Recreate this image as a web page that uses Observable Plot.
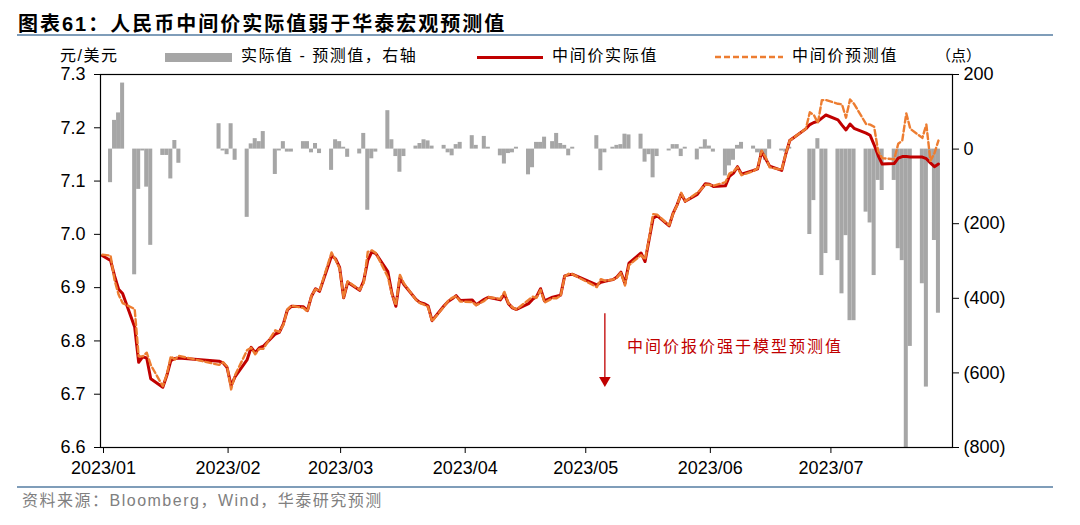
<!DOCTYPE html>
<html><head><meta charset="utf-8">
<script src="https://cdn.jsdelivr.net/npm/d3@7"></script>
<script src="https://cdn.jsdelivr.net/npm/@observablehq/plot@0.6"></script>
<style>
body{margin:0;background:#fff;}
#wrap{position:relative;width:1080px;height:525px;overflow:hidden;background:#fff;font-family:"Liberation Sans",Arial,"Noto Sans CJK SC",sans-serif;color:#000;}
.abs{position:absolute;white-space:nowrap;}
.cjk{font-family:"Liberation Sans",Arial,"Noto Sans CJK SC",sans-serif;}
.layer{position:absolute;left:0;top:66px;}
</style></head>
<body><div id="wrap">
  <div class="abs cjk" style="left:18px;top:11px;font-size:20px;line-height:26px;font-weight:bold;letter-spacing:2px;">图表61：人民币中间价实际值弱于华泰宏观预测值</div>
  <div class="abs" style="left:17px;top:34px;width:1036px;height:1.5px;background:#7F9DB9;"></div>
  <div class="abs cjk" style="left:60px;top:46px;font-size:16px;line-height:20px;letter-spacing:1.5px;">元/美元</div>
  <div class="abs" style="left:165px;top:53px;width:67px;height:9px;background:#A6A6A6;"></div>
  <div class="abs cjk" style="left:241px;top:46px;font-size:16px;line-height:20px;letter-spacing:1.5px;">实际值 - 预测值，右轴</div>
  <div class="abs" style="left:477px;top:56px;width:66px;height:3px;background:#C00000;"></div>
  <div class="abs cjk" style="left:552px;top:46px;font-size:16px;line-height:20px;letter-spacing:1.7px;">中间价实际值</div>
  <svg class="abs" style="left:715px;top:52px;" width="68" height="10"><line x1="0" y1="5" x2="68" y2="5" stroke="#ED7D31" stroke-width="2.5" stroke-dasharray="6,3"/></svg>
  <div class="abs cjk" style="left:792px;top:46px;font-size:16px;line-height:20px;letter-spacing:1.7px;">中间价预测值</div>
  <div class="abs" style="left:936px;top:45px;font-size:15px;line-height:20px;font-family:'Noto Sans CJK SC',sans-serif;">（点）</div>
  <div id="bars" class="layer"></div>
  <div id="lines" class="layer"></div>
  <div class="abs" style="left:17px;top:486px;width:1036px;height:1.5px;background:#7F9DB9;"></div>
  <div class="abs cjk" style="left:22px;top:491px;font-size:16px;line-height:20px;letter-spacing:1.5px;color:#808080;">资料来源：Bloomberg，Wind，华泰研究预测</div>
</div>
<script>
// ---- data ----
const dates = [
 "2023-01-01","2023-01-03","2023-01-04","2023-01-05","2023-01-06","2023-01-09","2023-01-10","2023-01-11","2023-01-12","2023-01-13","2023-01-16","2023-01-17","2023-01-18","2023-01-19","2023-01-20","2023-01-30","2023-01-31",
 "2023-02-01","2023-02-02","2023-02-03","2023-02-06","2023-02-07","2023-02-08","2023-02-09","2023-02-10","2023-02-13","2023-02-14","2023-02-15","2023-02-16","2023-02-17","2023-02-20","2023-02-21","2023-02-22","2023-02-23","2023-02-24","2023-02-27","2023-02-28",
 "2023-03-01","2023-03-02","2023-03-03","2023-03-06","2023-03-07","2023-03-08","2023-03-09","2023-03-10","2023-03-13","2023-03-14","2023-03-15","2023-03-16","2023-03-17","2023-03-20","2023-03-21","2023-03-22","2023-03-23","2023-03-24","2023-03-27","2023-03-28","2023-03-29","2023-03-30","2023-03-31",
 "2023-04-03","2023-04-04","2023-04-06","2023-04-07","2023-04-10","2023-04-11","2023-04-12","2023-04-13","2023-04-14","2023-04-17","2023-04-18","2023-04-19","2023-04-20","2023-04-21","2023-04-23","2023-04-24","2023-04-25","2023-04-26","2023-04-27","2023-04-28",
 "2023-05-04","2023-05-05","2023-05-06","2023-05-08","2023-05-09","2023-05-10","2023-05-11","2023-05-12","2023-05-15","2023-05-16","2023-05-17","2023-05-18","2023-05-19","2023-05-22","2023-05-23","2023-05-24","2023-05-25","2023-05-26","2023-05-29","2023-05-30","2023-05-31",
 "2023-06-01","2023-06-02","2023-06-05","2023-06-06","2023-06-07","2023-06-08","2023-06-09","2023-06-12","2023-06-13","2023-06-14","2023-06-15","2023-06-16","2023-06-19","2023-06-20","2023-06-21","2023-06-25","2023-06-26","2023-06-27","2023-06-28","2023-06-29","2023-06-30",
 "2023-07-03","2023-07-04","2023-07-05","2023-07-06","2023-07-07","2023-07-10","2023-07-11","2023-07-12","2023-07-13","2023-07-14","2023-07-17","2023-07-18","2023-07-19","2023-07-20","2023-07-21","2023-07-24","2023-07-25","2023-07-26","2023-07-27","2023-07-28"
];
// 中间价实际值 (元/美元)
const actual = [
 6.960,6.951,6.922,6.897,6.889,6.826,6.760,6.770,6.768,6.729,6.713,6.735,6.763,6.767,6.768,6.762,6.759,
 6.750,6.716,6.733,6.765,6.788,6.778,6.787,6.790,6.813,6.816,6.832,6.858,6.865,6.864,6.857,6.884,6.898,6.893,6.960,6.954,
 6.938,6.881,6.910,6.895,6.913,6.951,6.967,6.964,6.930,6.890,6.865,6.918,6.906,6.878,6.872,6.870,6.866,6.838,6.866,6.874,6.879,6.885,6.876,
 6.877,6.868,6.878,6.882,6.877,6.888,6.870,6.862,6.859,6.870,6.878,6.883,6.898,6.875,6.882,6.884,6.886,6.922,6.924,6.925,
 6.905,6.910,6.912,6.915,6.920,6.929,6.908,6.946,6.965,6.949,6.990,7.030,7.035,7.016,7.040,7.056,7.076,7.062,7.075,7.085,7.095,
 7.094,7.090,7.091,7.109,7.115,7.127,7.113,7.120,7.123,7.155,7.142,7.128,7.120,7.150,7.176,7.198,7.206,7.210,7.212,7.218,7.224,
 7.215,7.205,7.196,7.207,7.199,7.190,7.186,7.168,7.148,7.132,7.133,7.143,7.146,7.146,7.145,7.145,7.142,7.134,7.127,7.132
];
// 中间价预测值 (元/美元)
const predicted = [
 6.962,6.960,6.914,6.887,6.871,6.860,6.771,6.771,6.778,6.755,6.715,6.737,6.771,6.765,6.772,6.755,6.760,
 6.752,6.709,6.736,6.783,6.787,6.775,6.785,6.785,6.820,6.817,6.830,6.859,6.866,6.862,6.855,6.885,6.897,6.894,6.966,6.952,
 6.936,6.881,6.912,6.896,6.909,6.967,6.970,6.965,6.920,6.888,6.867,6.924,6.908,6.877,6.871,6.868,6.864,6.837,6.865,6.875,6.881,6.884,6.874,
 6.873,6.867,6.875,6.882,6.879,6.892,6.871,6.863,6.859,6.877,6.883,6.881,6.896,6.872,6.880,6.880,6.885,6.921,6.926,6.925,
 6.901,6.916,6.913,6.915,6.919,6.928,6.904,6.942,6.961,6.953,6.992,7.038,7.037,7.017,7.039,7.055,7.078,7.062,7.078,7.085,7.093,
 7.093,7.091,7.098,7.114,7.118,7.126,7.111,7.119,7.124,7.157,7.145,7.126,7.121,7.151,7.176,7.198,7.229,7.224,7.209,7.252,7.252,
 7.245,7.244,7.219,7.253,7.245,7.207,7.206,7.202,7.156,7.143,7.141,7.170,7.176,7.227,7.198,7.181,7.206,7.138,7.152,7.176
];
// 实际值 - 预测值 (点, 右轴)
const diffPips = [
 null,-90,77,97,177,-337,-108,-5,-102,-258,-17,-17,-80,23,-38,68,-5,
 -15,68,-30,-183,14,28,20,47,-68,-5,20,-8,-8,20,20,-10,15,-12,-57,25,
 20,5,-22,-13,42,-164,-26,-8,103,25,-20,-62,-20,8,15,25,22,8,10,-10,-18,12,18,
 36,10,34,5,-18,-40,-12,-10,5,-69,-50,18,18,32,20,42,15,10,-18,5,
 36,-58,-10,5,10,12,40,38,40,-35,-15,-77,-20,-5,12,12,-20,5,-29,5,25,
 8,-8,-72,-45,-30,10,18,8,-10,-20,-30,25,-5,-8,5,0,-229,-138,28,-339,-280,
 -299,-388,-232,-460,-460,-169,-198,-339,-84,-111,-84,-267,-299,-810,-529,-361,-638,-35,-245,-440
];
const xRange = ["2023-01-01", "2023-08-01"];
const monthTicks = ["2023-01-01","2023-02-01","2023-03-01","2023-04-01","2023-05-01","2023-06-01","2023-07-01"];
const leftTicks = [6.6, 6.7, 6.8, 6.9, 7.0, 7.1, 7.2, 7.3];
const leftDomain = [6.6, 7.3];
const rightTicks = [-800, -600, -400, -200, 0, 200];
const rightDomain = [-800, 200];
const annotation = [{date: "2023-05-06", from: 6.852, to: 6.731, head: 6.726, textDate: "2023-05-12", textY: 6.788, label: "中间价报价强于模型预测值"}];

// ---- build ----
const parse = d3.utcParse("%Y-%m-%d");
const rows = dates.map((d, i) => ({date: parse(d), mid: d3.utcHour.offset(parse(d), 12), actual: actual[i], predicted: predicted[i], diff: diffPips[i]}));
const barRows = rows.filter(r => r.diff != null && r.diff !== 0);
const ann = annotation.map(a => ({...a, x: d3.utcHour.offset(parse(a.date), 12), tx: parse(a.textDate)}));

const common = {
  width: 1080, height: 410,
  marginLeft: 100, marginRight: 128, marginTop: 8, marginBottom: 29,
  style: {background: "transparent", fontFamily: "Liberation Sans, Arial, sans-serif", fontSize: "18px", color: "#000", overflow: "visible"}
};

const barsPlot = Plot.plot({
  ...common,
  x: {type: "utc", domain: xRange.map(parse), axis: null},
  y: {domain: rightDomain},
  marks: [
    Plot.rect(barRows, {x1: "date", x2: d => d3.utcDay.offset(d.date, 1), y1: () => 0, y2: "diff", fill: "#A6A6A6", clip: true}),
    Plot.axisY({anchor: "right", ticks: rightTicks, tickFormat: d => d < 0 ? `(${-d})` : `${d}`, tickSize: 6, tickPadding: 5, label: null, stroke: "#000"})
  ]
});

const linesPlot = Plot.plot({
  ...common,
  x: {type: "utc", domain: xRange.map(parse)},
  y: {domain: leftDomain},
  marks: [
    Plot.line(rows, {x: "mid", y: "actual", stroke: "#C00000", strokeWidth: 3, strokeLinejoin: "round"}),
    Plot.line(rows, {x: "mid", y: "predicted", stroke: "#ED7D31", strokeWidth: 2.4, strokeDasharray: "6,3"}),
    Plot.frame({stroke: "#000", strokeWidth: 1.2}),
    Plot.axisY({anchor: "left", ticks: leftTicks, tickFormat: ".1f", tickSize: 6, tickPadding: 9, label: null, stroke: "#000"}),
    Plot.axisX({ticks: monthTicks.map(parse), tickFormat: d3.utcFormat("%Y/%m"), tickSize: 6, tickPadding: 8, label: null, stroke: "#000", dx: 3}),
    Plot.link(ann, {x1: "x", x2: "x", y1: "from", y2: "to", stroke: "#C00000", strokeWidth: 1.3}),
    Plot.dot(ann, {x: "x", y: "head", symbol: "triangle", rotate: 180, r: 4.3, fill: "#C00000", stroke: "none"}),
    Plot.text(ann, {x: "tx", y: "textY", text: "label", textAnchor: "start", fill: "#C00000", fontSize: 16, fontFamily: "Noto Sans CJK SC, sans-serif"})
  ]
});
linesPlot.querySelectorAll('g[aria-label="text"] text').forEach(t => t.style.letterSpacing = "2px");

document.getElementById("bars").appendChild(barsPlot);
document.getElementById("lines").appendChild(linesPlot);
</script>
</body></html>
